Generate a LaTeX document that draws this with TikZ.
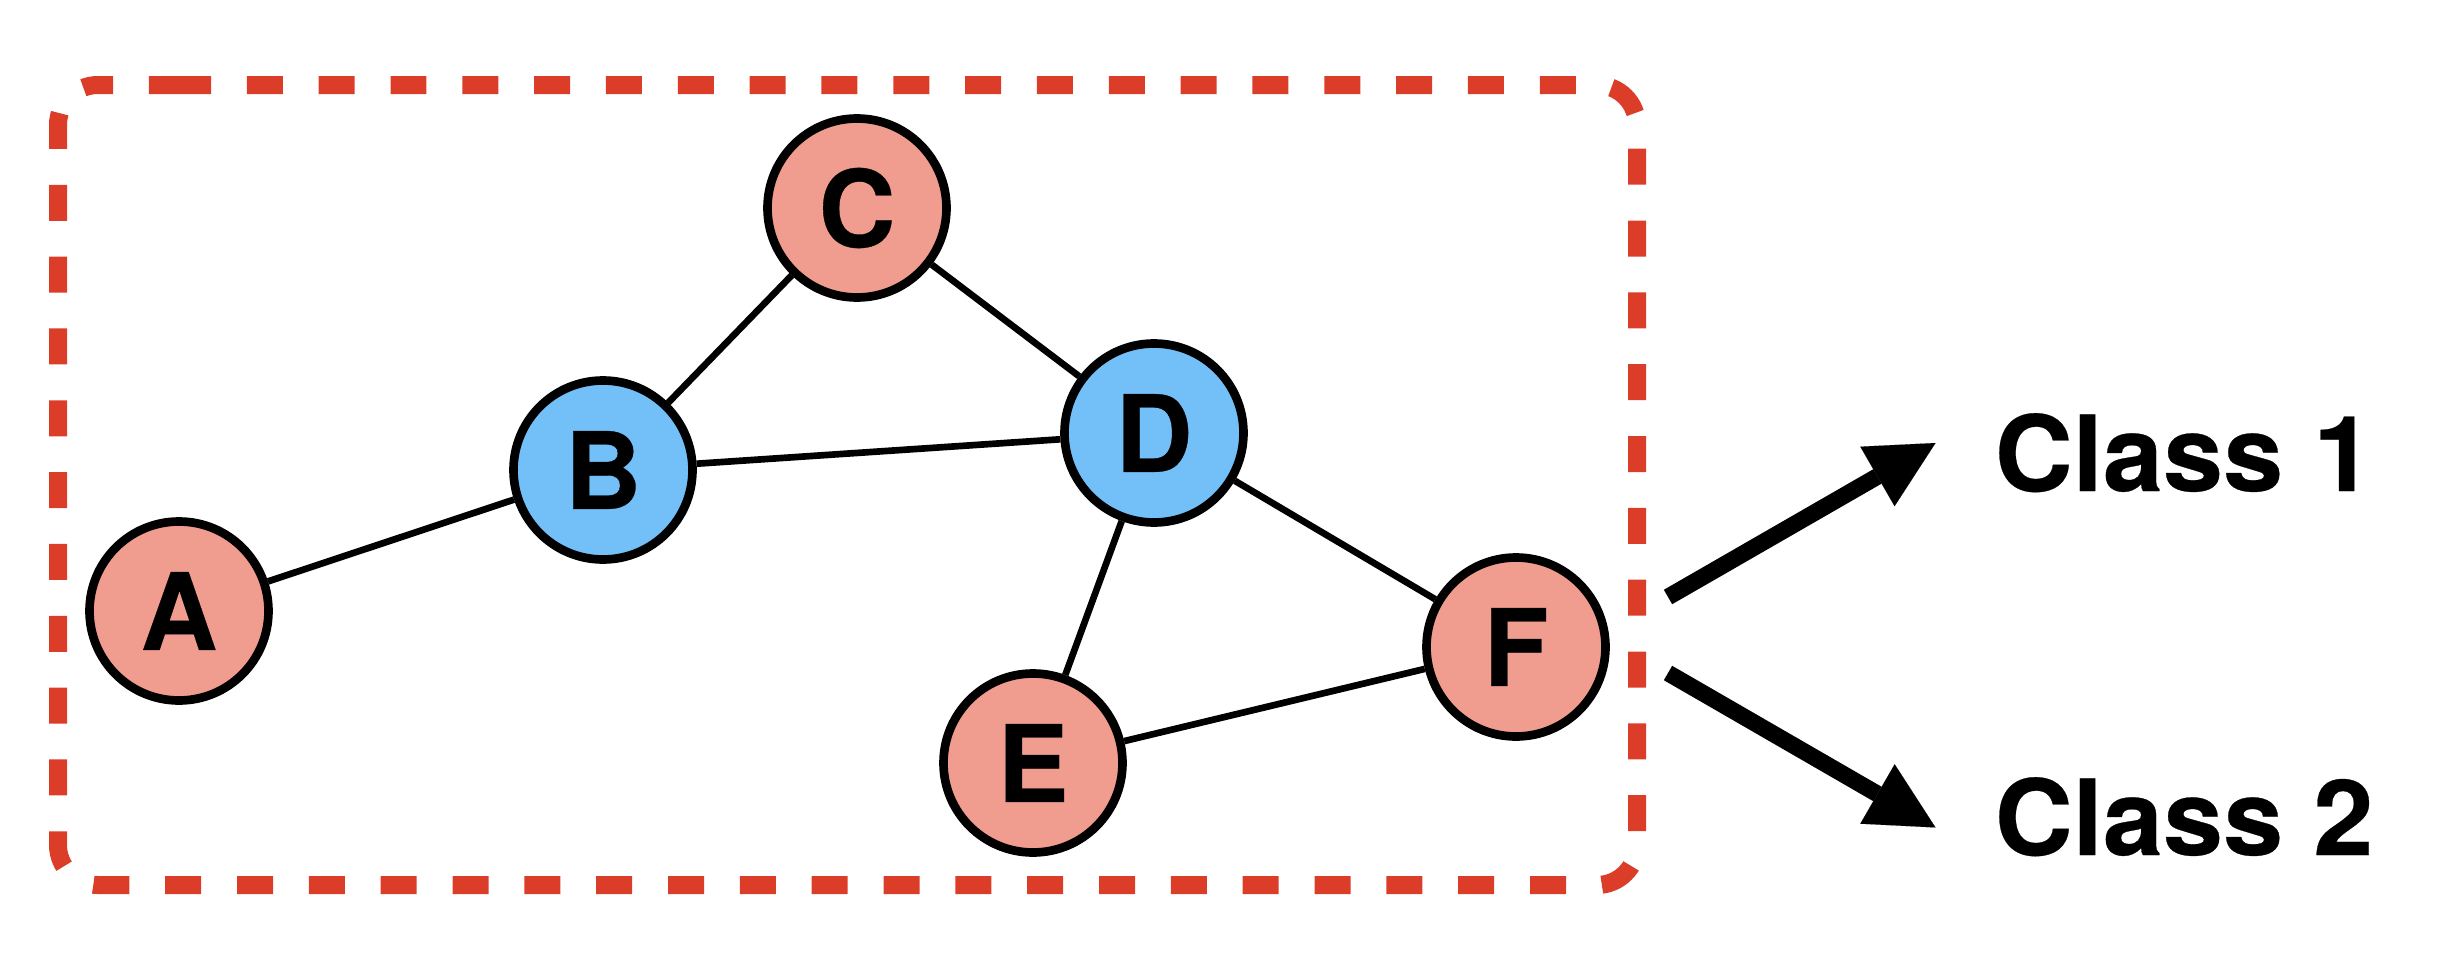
\documentclass[tikz,border=0pt]{standalone}
\usepackage{fontspec}
\setmainfont{TeX Gyre Heros}
\newfontfamily\heavyfont[BoldFeatures={FakeBold=0.3}]{TeX Gyre Heros}
\newfontfamily\classfont[FakeStretch=1.03, BoldFeatures={FakeBold=0.25}]{TeX Gyre Heros}
\usetikzlibrary{arrows.meta}
\definecolor{nodepink}{HTML}{F09C8F}
\definecolor{nodeblue}{HTML}{73BFF8}
\definecolor{boxred}{HTML}{DC3D28}
\tikzset{
  gnode/.style={circle, draw=black, line width=2.6pt, minimum size=53.7pt, inner sep=0pt,
    font=\fontsize{32}{38}\selectfont\heavyfont\bfseries},
  pinknode/.style={gnode, fill=nodepink},
  bluenode/.style={gnode, fill=nodeblue},
  gedge/.style={draw=black, line width=2pt},
  groupbox/.style={draw=boxred, line width=5.4pt, dash pattern=on 10.8pt off 10.75pt, rounded corners=12pt},
  bigarrow/.style={draw=black, line width=5pt, -{Triangle[length=20.1pt,width=20.6pt,line width=0.01pt]}},
  classlabel/.style={anchor=base west, inner sep=0pt, font=\fontsize{31.5}{38}\selectfont\classfont\bfseries}
}
\begin{document}
\begin{tikzpicture}[x=0.3pt, y=-0.3pt]
\useasboundingbox (0,0) rectangle (2464,966);
% group box
\draw[groupbox] (135,85) -- (1637,85) -- (1637,885) -- (58,885) -- (58,85) -- cycle;
% nodes
\node[pinknode] (A) at (179,611) {A};
\node[bluenode] (B) at (603,470) {B};
\node[pinknode] (C) at (857,208) {C};
\node[bluenode] (D) at (1154,433) {D};
\node[pinknode] (E) at (1033,763) {E};
\node[pinknode] (F) at (1516,647) {F};
% edges
\draw[gedge] (A) -- (B);
\draw[gedge] (B) -- (C);
\draw[gedge] (B) -- (D);
\draw[gedge] (C) -- (D);
\draw[gedge] (D) -- (E);
\draw[gedge] (D) -- (F);
\draw[gedge] (E) -- (F);
% output arrows
\coordinate (s1) at (1668,597);
\coordinate (t1) at (1935.5,443);
\coordinate (s2) at (1668,673);
\coordinate (t2) at (1935.5,827.5);
\node[classlabel] (c1) at (1994,491) {Class 1};
\node[classlabel] (c2) at (1994,855) {Class 2};
\draw[bigarrow] (s1) -- (t1);
\draw[bigarrow] (s2) -- (t2);
\end{tikzpicture}
\end{document}
